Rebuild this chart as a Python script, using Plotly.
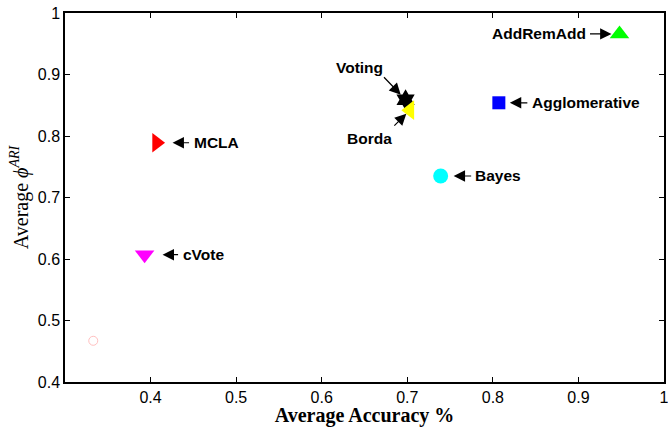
import plotly.graph_objects as go

# ---- data ----
methods = ["AddRemAdd", "Agglomerative", "Voting", "Borda", "Bayes", "MCLA", "cVote", ""]
accuracy = [0.948, 0.807, 0.698, 0.703, 0.739, 0.407, 0.393, 0.333]
ari = [0.966, 0.854, 0.859, 0.842, 0.735, 0.789, 0.607, 0.467]

x_ticks = [0.4, 0.5, 0.6, 0.7, 0.8, 0.9, 1.0]
x_tick_labels = ["0.4", "0.5", "0.6", "0.7", "0.8", "0.9", "1"]
y_ticks = [0.4, 0.5, 0.6, 0.7, 0.8, 0.9, 1.0]
y_tick_labels = ["0.4", "0.5", "0.6", "0.7", "0.8", "0.9", "1"]

# ---- styles ----
symbols = ["triangle-up", "square", "hexagram", "triangle-left", "circle",
           "triangle-right", "triangle-down", "circle-open"]
colors = ["#00ff00", "#0000ff", "#000000", "#ffff00", "#00ffff",
          "#ff0000", "#ff00ff", "#ffc0c0"]
sizes = [17, 13, 16, 17, 15, 17, 17, 9]

# label layout (pixel offsets relative to marker): arrow tail (ax, ay), standoff, text shift, anchor
label_cfg = {
    "AddRemAdd":     dict(ax=-31, ay=0,   standoff=8,  xshift=-32, yshift=0,   xanchor="right"),
    "Agglomerative": dict(ax=30,  ay=0,   standoff=11, xshift=31,  yshift=0,   xanchor="left"),
    "Voting":        dict(ax=-23, ay=-24, standoff=7,  xshift=-46, yshift=32,  xanchor="center"),
    "Borda":         dict(ax=-17, ay=17,  standoff=5,  xshift=-40, yshift=-28, xanchor="center"),
    "Bayes":         dict(ax=32,  ay=0,   standoff=13, xshift=32,  yshift=0,   xanchor="left"),
    "MCLA":          dict(ax=34,  ay=0,   standoff=16, xshift=35,  yshift=0,   xanchor="left"),
    "cVote":         dict(ax=35,  ay=0,   standoff=18, xshift=36,  yshift=0,   xanchor="left"),
}

fig = go.Figure()
for name, xv, yv, sym, col, sz in zip(methods, accuracy, ari, symbols, colors, sizes):
    if sym == "circle-open":
        marker = dict(symbol=sym, color=col, size=sz, line=dict(color=col, width=1))
    else:
        marker = dict(symbol=sym, color=col, size=sz, line=dict(width=0))
    fig.add_trace(go.Scatter(x=[xv], y=[yv], mode="markers", marker=marker,
                             name=name, showlegend=False, hoverinfo="skip"))

label_font = dict(family="Liberation Sans, Arial, sans-serif", size=15.5, color="black")
for name, xv, yv in zip(methods, accuracy, ari):
    if name not in label_cfg:
        continue
    c = label_cfg[name]
    fig.add_annotation(x=xv, y=yv, xref="x", yref="y", text="", showarrow=True,
                       ax=c["ax"], ay=c["ay"], standoff=c["standoff"],
                       arrowhead=2, arrowsize=1.9, arrowwidth=1.2, arrowcolor="black")
    fig.add_annotation(x=xv, y=yv, xref="x", yref="y", text="<b>%s</b>" % name,
                       showarrow=False, xanchor=c["xanchor"], yanchor="middle",
                       xshift=c["xshift"], yshift=c["yshift"], font=label_font)

axis_common = dict(
    showgrid=False, zeroline=False, showline=True, linecolor="black", linewidth=1.5,
    mirror="ticks", ticks="inside", ticklen=5, tickwidth=1, tickcolor="black",
    automargin=False, ticklabeloverflow="allow",
    tickfont=dict(family="Liberation Sans, Arial, sans-serif", size=16, color="black"),
)

fig.update_layout(
    width=668, height=427,
    margin=dict(l=65, r=4, t=13, b=45),
    paper_bgcolor="white", plot_bgcolor="white",
    xaxis=dict(range=[0.3, 1.0], tickvals=x_ticks, ticktext=x_tick_labels,
               title=dict(text="<b>Average Accuracy %</b>", standoff=8,
                          font=dict(family="Liberation Serif, Times New Roman, serif", size=20, color="black")),
               **axis_common),
    yaxis=dict(range=[0.4, 1.0], tickvals=y_ticks, ticktext=y_tick_labels,
               title=dict(text="Average <i>ϕ</i><sup><i>ARI</i></sup>", standoff=4,
                          font=dict(family="Liberation Serif, Times New Roman, serif", size=20, color="black")),
               **axis_common),
)

fig.write_html("out.html")
